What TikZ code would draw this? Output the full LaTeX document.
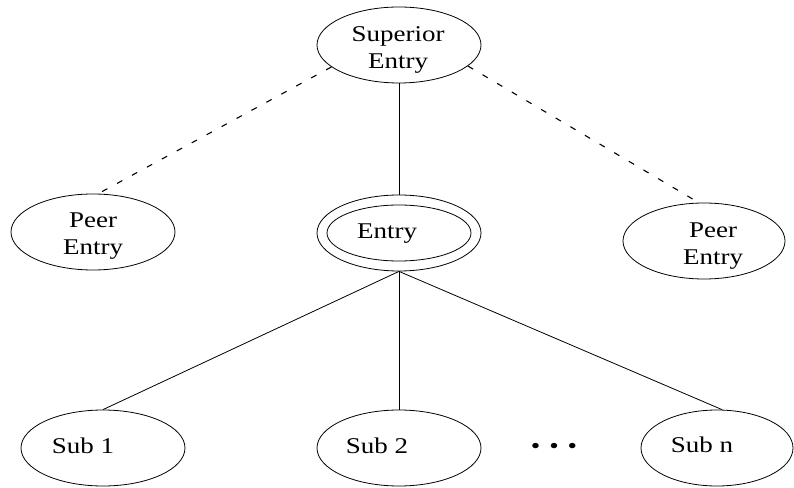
\documentclass[tikz,border=0pt]{standalone}
\usepackage{fontspec}
\setmainfont{Liberation Serif}[FakeStretch=1.2]
\usetikzlibrary{shapes.geometric,calc}
\begin{document}
\begin{tikzpicture}[x=1pt,y=1pt,
  ell/.style={draw,ellipse,line width=0.8pt,inner sep=0pt,minimum width=164pt,minimum height=76pt},
  txt/.style={font=\fontsize{22.5}{27}\selectfont,align=center,inner sep=0pt},
  conn/.style={line width=0.8pt},
  peerlink/.style={line width=1.1pt,dash pattern=on 6pt off 11pt}]
\useasboundingbox (0,0) rectangle (794,487);
% ellipses
\node[ell] (sup) at (399,442) {};
\node[ell] (peerL) at (93,255) {};
\node[ell] (entry) at (399,254) {};
\draw[line width=0.8pt] (entry.center) ellipse (72pt and 28pt);
\node[ell,minimum width=162pt] (peerR) at (704,246) {};
\node[ell] (sub1) at (103,39) {};
\node[ell] (sub2) at (399,39) {};
\node[ell,minimum width=152pt] (subn) at (717,39) {};
% texts
\node[txt] (supT) at (398,437) {Superior\\Entry};
\node[txt] (peerLT) at (93,251) {Peer\\Entry};
\node[txt,anchor=base] (entryT) at (387,248) {Entry};
\node[txt] (peerRT) at (713,240.5) {Peer\\Entry};
\node[txt,anchor=base] (sub1T) at (83,34) {Sub 1};
\node[txt,anchor=base] (sub2T) at (377,34) {Sub 2};
\node[txt,anchor=base] (subnT) at (702,35) {Sub n};
\node[txt,anchor=base] (dots) at (554,34) {•\hspace{9pt}•\hspace{9pt}•};
% connectors
\draw[conn] (sup.south) -- (entry.north);
\draw[peerlink] (sup.198) -- ($(peerL.north)+(9,2)$);
\draw[peerlink] (sup.343) -- ($(peerR.north)+(-7,1)$);
\draw[conn] (entry.south) -- (sub1.north);
\draw[conn] (entry.south) -- (sub2.north);
\draw[conn] (entry.south) -- ($(subn.north)+(5,0)$);
\end{tikzpicture}
\end{document}
